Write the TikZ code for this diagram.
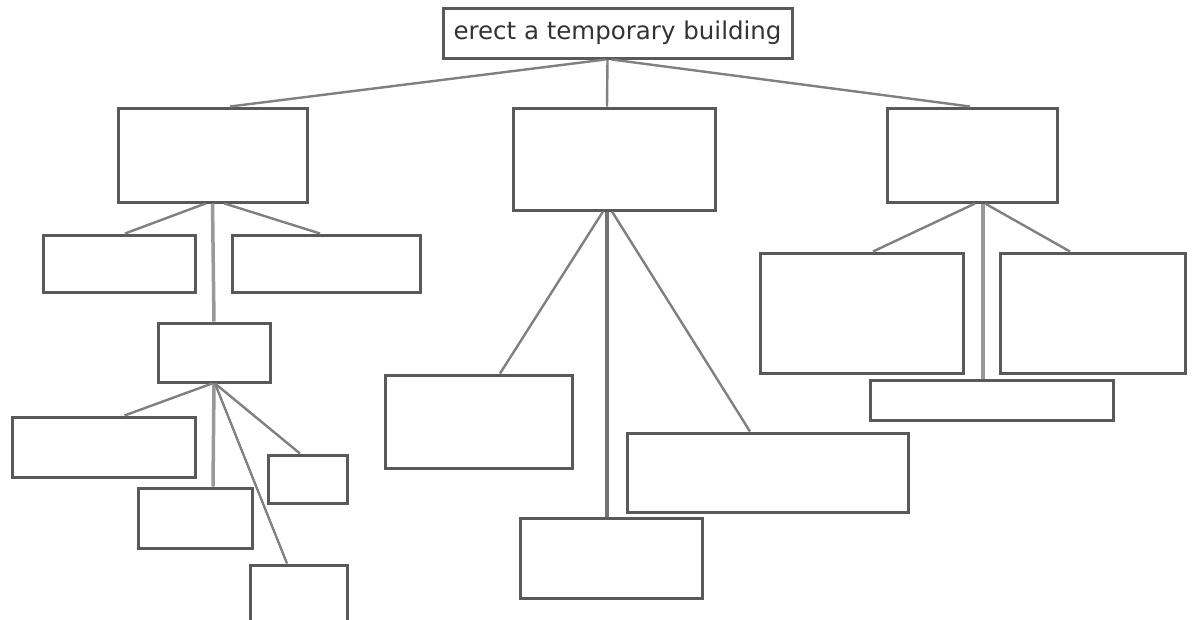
\documentclass[tikz,border=0pt]{standalone}
\usepackage{fontspec}
\setmainfont{DejaVu Sans}
\begin{document}
\begin{tikzpicture}[x=1pt,y=-1pt,
  box/.style={draw=black!65, line width=3pt, fill=white, inner sep=0pt},
  link/.style={draw=black!50, line width=2.4pt},
  trunk/.style={draw=black!40, line width=3.5pt}]
\useasboundingbox (0,0) rectangle (1193,619);
\fill[white] (0,0) rectangle (1193,619);

% root
\node[box, minimum width=349pt, minimum height=50pt, font=\fontsize{24.5}{28}\selectfont, text=black!80] (root) at (617.5,33) {erect a temporary building};

% first level
\node[box, minimum width=189pt, minimum height=94pt]  (L1) at (212.5,155) {};
\node[box, minimum width=202pt, minimum height=102pt] (M1) at (614,159) {};
\node[box, minimum width=170pt, minimum height=94pt]  (R1) at (972,155) {};

% left branch
\node[box, minimum width=152pt, minimum height=57pt] (LA) at (119,263.5) {};
\node[box, minimum width=188pt, minimum height=57pt] (LB) at (326,263.5) {};
\node[box, minimum width=112pt, minimum height=59pt] (LC) at (214,352.5) {};
\node[box, minimum width=183pt, minimum height=60pt] (LD) at (103.5,447) {};
\node[box, minimum width=114pt, minimum height=60pt] (LE) at (195,518) {};
\node[box, minimum width=79pt,  minimum height=48pt] (LF) at (307.5,479) {};
\node[box, minimum width=97pt,  minimum height=65pt] (LG) at (298.5,597.5) {};

% middle branch
\node[box, minimum width=187pt, minimum height=93pt] (MA) at (478.5,421.5) {};
\node[box, minimum width=281pt, minimum height=79pt] (MB) at (767.5,472.5) {};
\node[box, minimum width=182pt, minimum height=80pt] (MC) at (611,558) {};

% right branch
\node[box, minimum width=203pt, minimum height=120pt] (RA) at (861.5,313) {};
\node[box, minimum width=185pt, minimum height=120pt] (RB) at (1092.5,313) {};
\node[box, minimum width=243pt, minimum height=40pt]  (RC) at (991.5,400) {};

% connectors
\draw[link] ([xshift=-12pt]root.south) -- ([xshift=17.5pt]L1.north);
\draw[link] ([xshift=-10pt]root.south) -- ([xshift=-7pt]M1.north);
\draw[link] ([xshift=-6pt]root.south) -- ([xshift=-2pt]R1.north);

\draw[link] ([xshift=-7pt]L1.south) -- ([xshift=6pt]LA.north);
\draw[link] ([xshift=12pt]L1.south) -- ([xshift=-6pt]LB.north);
\draw[trunk] (L1.south) -- (LC.north);

\draw[link] ([xshift=-2pt]LC.south) -- ([xshift=21pt]LD.north);
\draw[trunk] (LC.south) -- ([xshift=18pt]LE.north);
\draw[link] ([xshift=1pt]LC.south) -- ([xshift=-7.5pt]LF.north);
\draw[link] ([xshift=1pt]LC.south) -- ([xshift=-11.5pt]LG.north);

\draw[link] ([xshift=-11pt]M1.south) -- ([xshift=21.5pt]MA.north);
\draw[trunk,draw=black!55] ([xshift=-7pt]M1.south) -- ([xshift=-4pt]MC.north);
\draw[link] ([xshift=-2pt]M1.south) -- ([xshift=-17.5pt]MB.north);

\draw[link] ([xshift=3pt]R1.south) -- ([xshift=11.5pt]RA.north);
\draw[link] ([xshift=13pt]R1.south) -- ([xshift=-22.5pt]RB.north);
\draw[trunk] ([xshift=11pt]R1.south) -- ([xshift=-8.5pt]RC.north);
\end{tikzpicture}
\end{document}
